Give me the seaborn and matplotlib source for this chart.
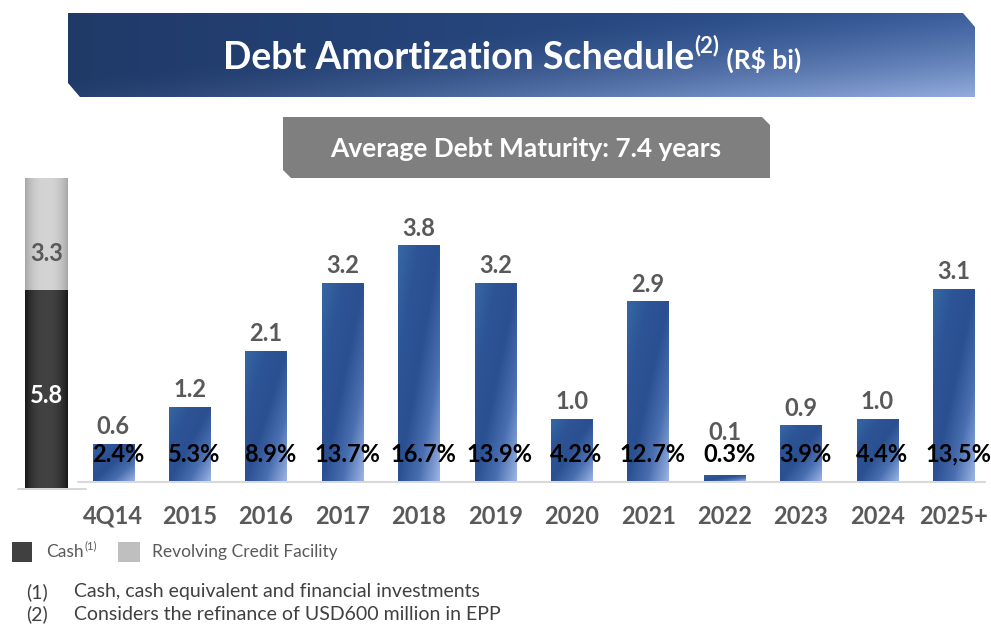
import numpy as np
import matplotlib
matplotlib.use("Agg")
import matplotlib.pyplot as plt
import seaborn as sns
from matplotlib.patches import Polygon, Rectangle
from matplotlib.colors import LinearSegmentedColormap, to_rgb

# data (R$ bi)
periods = ["4Q14", "2015", "2016", "2017", "2018", "2019", "2020", "2021",
           "2022", "2023", "2024", "2025+"]
amortization = [0.6, 1.2, 2.1, 3.2, 3.8, 3.2, 1.0, 2.9, 0.1, 0.9, 1.0, 3.1]
share_labels = ["2.4%", "5.3%", "8.9%", "13.7%", "16.7%", "13.9%", "4.2%",
                "12.7%", "0.3%", "3.9%", "4.4%", "13,5%"]
liquidity_parts = ["Cash", "Revolving Credit Facility"]
liquidity_values = [5.8, 3.3]
avg_maturity = 7.4

sns.set_theme(style="white")
plt.rcParams['font.family'] = ['Lato', 'DejaVu Sans']

W, H = 991, 624
fig = plt.figure(figsize=(W / 100, H / 100), dpi=100)
fig.patch.set_facecolor("white")

# background axes in pixel coords for the banner, boxes, legend, notes
bg = fig.add_axes([0, 0, 1, 1])
bg.set_xlim(0, W)
bg.set_ylim(H, 0)
bg.axis("off")


def px_axes(x0, y0, x1, y1):
    return fig.add_axes([x0 / W, 1 - y1 / H, (x1 - x0) / W, (y1 - y0) / H])


# title banner with gradient
banner = Polygon([(68, 13), (963, 13), (975, 27), (975, 97), (80, 97), (68, 83)],
                 closed=True, facecolor="none", edgecolor="none")
bg.add_patch(banner)
u = np.linspace(0, 1, 300)[None, :]
v = np.linspace(0, 1, 80)[:, None]
c_left, c_right, c_light = map(np.array, map(to_rgb, ["#203a68", "#2d5292", "#93acdc"]))
base = c_left * (1 - u[..., None]) + c_right * u[..., None]
wgt = np.clip((0.55 * u + 0.45 * v - 0.35) / 0.65, 0, 1) ** 1.6
rgb = base * (1 - wgt[..., None]) + c_light * wgt[..., None]
im = bg.imshow(rgb, extent=(68, 975, 97, 13), aspect="auto", zorder=1)
im.set_clip_path(banner)

# grey maturity box
bg.add_patch(Polygon([(283, 117), (762, 117), (770, 125), (770, 178), (291, 178), (283, 170)],
                     closed=True, facecolor="#7f7f7f", edgecolor="none", zorder=1))
bg.text(526, 149, f"Average Debt Maturity: {avg_maturity} years", ha="center", va="center",
        color="white", fontsize=19, fontweight="bold", zorder=3)

# title text pieces placed side by side
r = fig.canvas.get_renderer()
pieces = [("Debt Amortization Schedule", 27, 0), ("(2)", 16, -12), (" (R$ bi)", 19, 2)]
objs = []
total = 0
for s, fs, dy in pieces:
    t = bg.text(0, 58 + dy, s, ha="left", va="center", color="white",
                fontsize=fs, fontweight="bold", zorder=3)
    wdt = t.get_window_extent(renderer=r).width
    objs.append((t, wdt))
    total += wdt
x = 512 - total / 2
for t, wdt in objs:
    t.set_x(x)
    x += wdt

# main amortization bars
ax = px_axes(75, 233, 992, 481)
sns.barplot(x=periods, y=amortization, ax=ax, width=0.54, color="#2c5193",
            edgecolor="none", zorder=2)
bar_cmap = LinearSegmentedColormap.from_list(
    "bar", ["#3668a3", "#2d5496", "#2b5092", "#4b70b2", "#9bb4e3"])
gu, gv = np.meshgrid(np.linspace(0, 1, 40), np.linspace(0, 1, 120))
grad = 0.5 * (gu + (1 - gv))
for p in ax.patches:
    x0, y0, w, h = p.get_x(), p.get_y(), p.get_width(), p.get_height()
    g = ax.imshow(grad, cmap=bar_cmap, vmin=0, vmax=1, origin="lower",
                  extent=(x0, x0 + w, y0, y0 + h), aspect="auto", zorder=2)
    g.set_clip_path(p)
ax.set_xlim(-0.5, len(periods) - 0.5)
ax.set_ylim(0, 4.0)
for i, (val, lab) in enumerate(zip(amortization, share_labels)):
    ax.annotate(f"{val:.1f}", (i, max(val, 0.5)), xytext=(0, 4), textcoords="offset points",
                ha="center", va="bottom", fontsize=17, fontweight="bold", color="#595959",
                zorder=4)
    ax.text(i + 0.06, 0.43, lab, ha="center", va="center", fontsize=17,
            fontweight="bold", color="black", zorder=4)
ax.set_ylabel("")
ax.set_xlabel("")
ax.set_yticks([])
ax.tick_params(axis="x", length=0, pad=17, labelsize=17, labelcolor="#595959")
for lbl in ax.get_xticklabels():
    lbl.set_fontweight("bold")
sns.despine(ax=ax, left=True, bottom=True)
ax.patch.set_alpha(0)
bg.plot([78, 985], [481.5, 481.5], color="#d9d9d9", lw=1.5, zorder=1)

# liquidity stacked bar (cash + revolving credit facility)
lx = px_axes(25, 178, 68, 488)
total_liq = sum(liquidity_values)
sns.barplot(x=["Liquidity"], y=[total_liq], ax=lx, width=1.0, color="#c4c4c4", edgecolor="none")
sns.barplot(x=["Liquidity"], y=[liquidity_values[0]], ax=lx, width=1.0, color="#333333",
            edgecolor="none")
shade_u = np.linspace(-1, 1, 60)[None, :]
edge = np.abs(shade_u) ** 2.5
for p, lo, hi in zip(lx.patches, ["#a8a8a8", "#1a1a1a"], ["#d4d4d4", "#424242"]):
    lo_c, hi_c = np.array(to_rgb(lo)), np.array(to_rgb(hi))
    img = hi_c * (1 - edge[..., None]) + lo_c * edge[..., None]
    img = np.repeat(img, 4, axis=0)
    x0, y0, w, h = p.get_x(), p.get_y(), p.get_width(), p.get_height()
    g = lx.imshow(img, extent=(x0, x0 + w, y0, y0 + h), aspect="auto", zorder=2)
    g.set_clip_path(p)
lx.set_xlim(-0.5, 0.5)
lx.set_ylim(0, total_liq)
lx.axis("off")
lx.text(0, liquidity_values[0] + liquidity_values[1] * 0.33, f"{liquidity_values[1]:.1f}",
        ha="center", va="center", fontsize=17, fontweight="bold", color="#595959", zorder=4)
lx.text(0, liquidity_values[0] * 0.47, f"{liquidity_values[0]:.1f}", ha="center", va="center",
        fontsize=17, fontweight="bold", color="white", zorder=4)
bg.plot([18, 86], [489, 489], color="#d0d0d0", lw=1.2, zorder=1)

# legend
bg.add_patch(Rectangle((12, 542), 20, 20, facecolor="#404040", edgecolor="none"))
t = bg.text(46, 552, liquidity_parts[0], ha="left", va="center", fontsize=12.5, color="#595959")
cw = t.get_window_extent(renderer=r).width
bg.text(46 + cw + 1, 546, "(1)", ha="left", va="center", fontsize=8, color="#595959")
bg.add_patch(Rectangle((118, 542), 22, 20, facecolor="#bfbfbf", edgecolor="none"))
bg.text(152, 552, liquidity_parts[1], ha="left", va="center", fontsize=12.5, color="#595959")

# footnotes
notes = ["Cash, cash equivalent and financial investments",
         "Considers the refinance of USD600 million in EPP"]
for k, note in enumerate(notes):
    yy = 592 + 22 * k
    bg.text(26, yy, f"({k + 1})", ha="left", va="center", fontsize=14, color="#404040")
    bg.text(74, yy, note, ha="left", va="center", fontsize=14, color="#404040")

fig.savefig("out.png", dpi=100)
